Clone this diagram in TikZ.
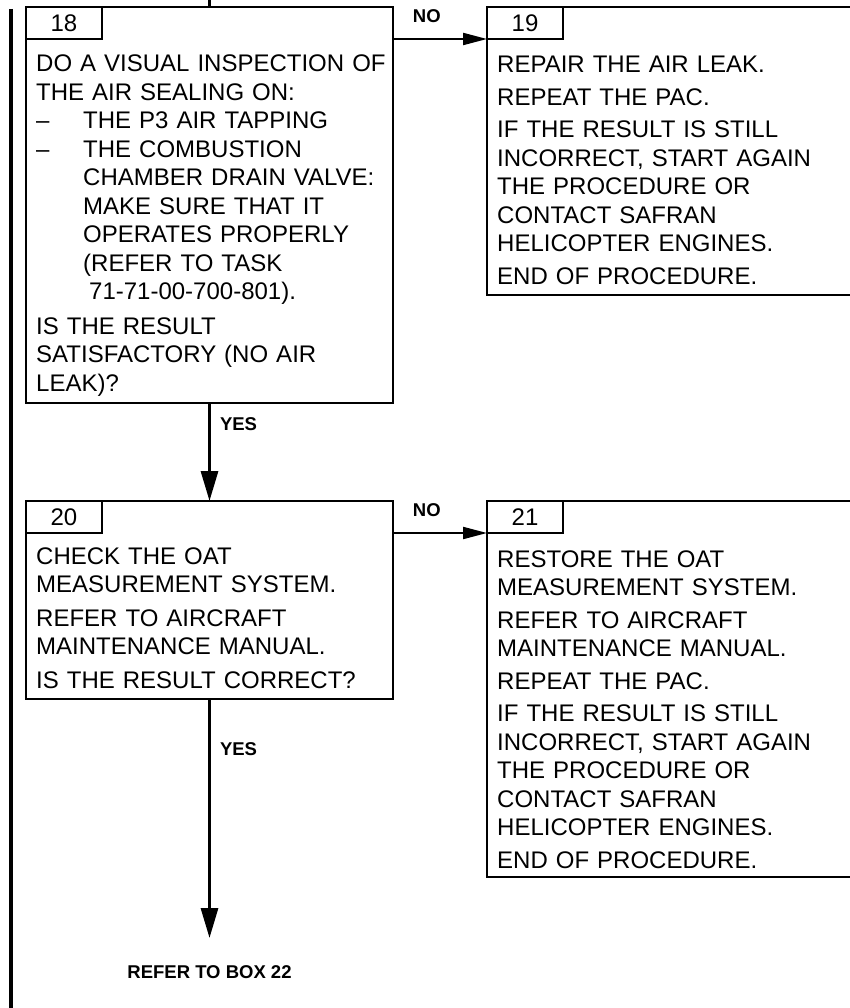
\documentclass[tikz,border=0pt]{standalone}
\usepackage{fontspec}
\setmainfont{Liberation Sans}
\usetikzlibrary{arrows.meta, positioning}
\tikzset{
  block/.style={rectangle, draw, line width=2pt, anchor=north west,
    inner sep=0pt, outer sep=0pt},
  numtab/.style={block, minimum width=76pt, minimum height=32pt,
    font=\fontsize{24}{28}\selectfont},
  blocktext/.style={anchor=base west, inner sep=0pt, text width=380pt,
    align=left, font=\fontsize{24}{28.5}\selectfont},
  arrow/.style={-{Triangle[length=30pt, width=17pt]}, line width=3pt},
  noarrow/.style={-{Triangle[length=24pt, width=12pt]}, line width=2pt},
  answer/.style={inner sep=0pt, font=\fontsize{18.5}{22}\selectfont\bfseries},
}

\begin{document}
\begin{tikzpicture}[x=1pt, y=-1pt]
  \useasboundingbox (0,0) rectangle (849,1008);
  % change bar
  \draw[line width=4pt] (10.5,9) -- (10.5,1008);
  % Box 18
  \node[block, minimum width=367pt, minimum height=396pt] (b18) at (26,7) {};
  \node[numtab] (t18) at (b18.north west) {18};
  \node[blocktext] (x18) at ([shift={(10,65)}]b18.north west)
    {DO A VISUAL INSPECTION OF\\
     THE AIR SEALING ON:\\
     \makebox[47pt][l]{–}THE P3 AIR TAPPING\\
     \makebox[47pt][l]{–}THE COMBUSTION\\
     \hspace*{47pt}CHAMBER DRAIN VALVE:\\
     \hspace*{47pt}MAKE SURE THAT IT\\
     \hspace*{47pt}OPERATES PROPERLY\\
     \hspace*{47pt}(REFER TO TASK\\
     \hspace*{53pt}71-71-00-700-801).\\[6pt]
     IS THE RESULT\\
     SATISFACTORY (NO AIR\\
     LEAK)?};
  % Box 19
  \node[block, minimum width=364pt, minimum height=288pt] (b19) at (487,7) {};
  \node[numtab] (t19) at (b19.north west) {19};
  \node[blocktext] (x19) at ([shift={(10,66)}]b19.north west)
    {REPAIR THE AIR LEAK.\\[4pt]
     REPEAT THE PAC.\\[4pt]
     IF THE RESULT IS STILL\\
     INCORRECT, START AGAIN\\
     THE PROCEDURE OR\\
     CONTACT SAFRAN\\
     HELICOPTER ENGINES.\\[4pt]
     END OF PROCEDURE.};
  % Box 20
  \node[block, minimum width=367pt, minimum height=198pt] (b20) at (26,501) {};
  \node[numtab] (t20) at (b20.north west) {20};
  \node[blocktext] (x20) at ([shift={(10,63)}]b20.north west)
    {CHECK THE OAT\\
     MEASUREMENT SYSTEM.\\[5pt]
     REFER TO AIRCRAFT\\
     MAINTENANCE MANUAL.\\[5pt]
     IS THE RESULT CORRECT?};
  % Box 21
  \node[block, minimum width=364pt, minimum height=376pt] (b21) at (487,501) {};
  \node[numtab] (t21) at (b21.north west) {21};
  \node[blocktext] (x21) at ([shift={(10,66)}]b21.north west)
    {RESTORE THE OAT\\
     MEASUREMENT SYSTEM.\\[4pt]
     REFER TO AIRCRAFT\\
     MAINTENANCE MANUAL.\\[4pt]
     REPEAT THE PAC.\\[4pt]
     IF THE RESULT IS STILL\\
     INCORRECT, START AGAIN\\
     THE PROCEDURE OR\\
     CONTACT SAFRAN\\
     HELICOPTER ENGINES.\\[4pt]
     END OF PROCEDURE.};
  \node[answer, below=266pt of b20] (ref22) {REFER TO BOX 22};
  % Links
  \coordinate (from17) at (b18.north |- 0,0);
  \draw[line width=3pt] (from17) -- (b18.north);
  \draw[arrow] (b18.south) -- (b20.north)
    node[answer, pos=0.22, right=9pt] {YES};
  \draw[noarrow] (b18.east |- t19.south west) -- (t19.south west)
    node[answer, pos=0.36, above=15pt] {NO};
  \draw[noarrow] (b20.east |- t21.south west) -- (t21.south west)
    node[answer, pos=0.36, above=15pt] {NO};
  \draw[arrow, shorten >=27pt] (b20.south) -- (ref22.north)
    node[answer, pos=0.19, right=9pt] {YES};
\end{tikzpicture}
\end{document}
